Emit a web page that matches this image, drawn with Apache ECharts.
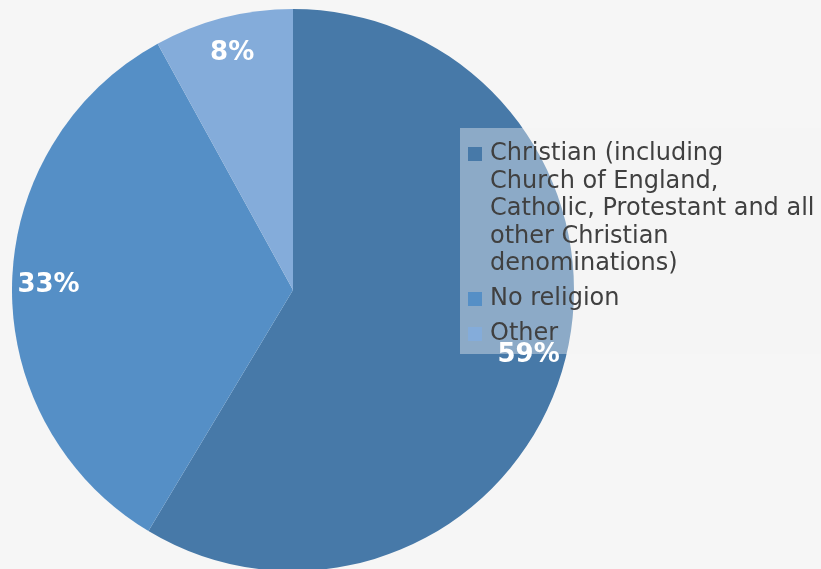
<!DOCTYPE html>
<html>
<head>
<meta charset="utf-8">
<script src="https://cdn.jsdelivr.net/npm/echarts@6/dist/echarts.min.js"></script>
<style>
html,body{margin:0;padding:0;background:#f6f6f6;}
#c{width:821px;height:569px;}
</style>
</head>
<body>
<div id="c"></div>
<script>
const categories = [
  'Christian (including Church of England, Catholic, Protestant and all other Christian denominations)',
  'No religion',
  'Other'
];
const legendLines = [
  ['Christian (including', 'Church of England,', 'Catholic, Protestant and all', 'other Christian', 'denominations)'],
  ['No religion'],
  ['Other']
];
const values = [58.6, 33.4, 8.0];
const labels = ['59%', '33%', '8%'];
const colors = ['#4779a8', '#558fc6', '#84acda'];

const chart = echarts.init(document.getElementById('c'));
const data = categories.map((n, i) => ({ name: n, value: values[i], itemStyle: { color: colors[i] } }));
const labelData = categories.map((n, i) => ({ name: n, value: values[i], label: { formatter: labels[i] } }));

const rich = {
  t: { fontSize: 24, color: '#404040', lineHeight: 27.5, padding: [0, 0, 0, 8], fontFamily: 'DejaVu Sans' },
  sp: { width: 14, height: 14 }
};
colors.forEach((c, i) => { rich['sq' + i] = { width: 14, height: 14, backgroundColor: c, verticalAlign: 'middle' }; });

chart.setOption({
  backgroundColor: '#f6f6f6',
  animation: false,
  legend: {
    orient: 'vertical',
    left: 460,
    top: 128,
    padding: [14, 40, 8, 3],
    itemGap: 11,
    itemWidth: 0,
    itemHeight: 0,
    icon: 'rect',
    backgroundColor: 'rgba(244,244,244,0.4)',
    data: categories,
    formatter: function (name) {
      const i = categories.indexOf(name);
      return legendLines[i].map((l, k) => (k === 0 ? '{sq' + i + '|}' : '{sp|}') + '{t|' + l + '}').join('\n');
    },
    textStyle: { rich: rich, fontFamily: 'DejaVu Sans', fontSize: 24, color: '#404040' }
  },
  series: [
    {
      type: 'pie',
      center: [293, 290],
      radius: [0, 281],
      startAngle: 90,
      clockwise: true,
      label: { show: false },
      labelLine: { show: false },
      emphasis: { disabled: true },
      data: data
    },
    {
      type: 'pie',
      z: 6,
      silent: true,
      center: [293, 290],
      radius: [202, 281],
      startAngle: 90,
      clockwise: true,
      itemStyle: { color: 'rgba(0,0,0,0)' },
      label: { show: true, position: 'inside', color: '#ffffff', fontWeight: 'bold', fontSize: 26, fontFamily: 'DejaVu Sans' },
      labelLine: { show: false },
      emphasis: { disabled: true },
      data: labelData
    }
  ]
});
</script>
</body>
</html>
